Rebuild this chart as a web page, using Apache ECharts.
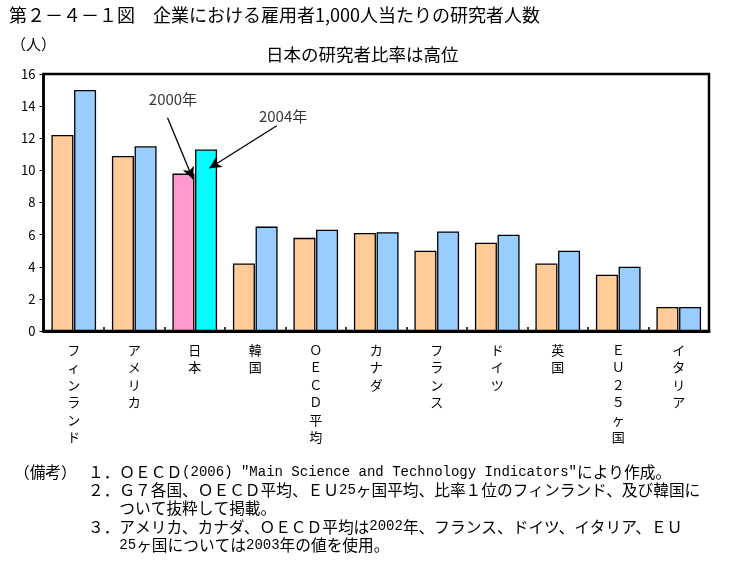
<!DOCTYPE html>
<html><head><meta charset="utf-8">
<script src="https://cdn.jsdelivr.net/npm/echarts@6/dist/echarts.min.js"></script>
<style>html,body{margin:0;padding:0;background:#fff}#c{width:734px;height:564px}</style>
</head><body><div id="c"></div>
<script>
const categories = ['フィンランド','アメリカ','日本','韓国','ＯＥＣＤ平均','カナダ','フランス','ドイツ','英国','ＥＵ２５ヶ国','イタリア'];
const values2000 = [12.2, 10.9, 9.8, 4.2, 5.8, 6.1, 5.0, 5.5, 4.2, 3.5, 1.5];
const values2004 = [15.0, 11.5, 11.3, 6.5, 6.3, 6.15, 6.2, 6.0, 5.0, 4.0, 1.5];
const yTicks = [0, 2, 4, 6, 8, 10, 12, 14, 16];
const annoLabels = [['2000年', 2.14, 14.4], ['2004年', 3.96, 13.35]];
const annoArrows = [[[2.05, 13.28], [2.47, 9.46]], [[3.855, 12.78], [2.74, 10.13]]];
const titleText = '第２－４－１図　企業における雇用者1,000人当たりの研究者人数';
const subtitleText = '日本の研究者比率は高位';
const notes = [
  ['（備考）', '１．ＯＥＣＤ(2006) "Main Science and Technology Indicators"により作成。'],
  ['', '２．Ｇ７各国、ＯＥＣＤ平均、ＥＵ25ヶ国平均、比率１位のフィンランド、及び韓国に'],
  ['', '　　ついて抜粋して掲載。'],
  ['', '３．アメリカ、カナダ、ＯＥＣＤ平均は2002年、フランス、ドイツ、イタリア、ＥＵ'],
  ['', '　　25ヶ国については2003年の値を使用。']
];

const FONT = '"Noto Sans CJK JP", sans-serif';
const JP = 2;
const chart = echarts.init(document.getElementById('c'));
const d2000 = values2000.map((v, i) => i === JP ? {value: v, itemStyle: {color: '#FF99CC'}} : v);
const d2004 = values2004.map((v, i) => i === JP ? {value: v, itemStyle: {color: '#00FFFF'}} : v);

function toRich(s) {
  return s.replace(/[\x20-\x7e]+|[^\x20-\x7e]+/g, r => /[\x20-\x7e]/.test(r[0]) ? '{m|' + r + '}' : '{j|' + r + '}');
}
const richStyles = {
  m: {fontFamily: '"Liberation Mono", monospace', fontSize: 14, fill: '#000', lineHeight: 18, verticalAlign: 'middle'},
  j: {fontFamily: FONT, fontSize: 15.7, fill: '#000', lineHeight: 18, verticalAlign: 'middle'}
};

const graphics = [
  {type: 'text', left: 9, top: 6, style: {text: titleText, font: '18px ' + FONT, fill: '#000'}},
  {type: 'text', left: 266, top: 46, style: {text: subtitleText, font: '17.5px ' + FONT, fill: '#000'}},
  {type: 'text', left: 11, top: 37, style: {text: '（人）', font: '15px ' + FONT, fill: '#000'}}
];
notes.forEach((n, i) => {
  if (n[0]) graphics.push({type: 'text', left: 14, top: 464 + i * 18.3, style: {text: toRich(n[0]), rich: richStyles}});
  graphics.push({type: 'text', left: 88, top: 464 + i * 18.3, style: {text: toRich(n[1]), rich: richStyles}});
});

chart.setOption({
  animation: false,
  backgroundColor: '#fff',
  textStyle: {fontFamily: FONT},
  graphic: graphics,
  grid: {left: 43.5, right: 25, top: 74, bottom: 233, show: true, borderColor: '#000', borderWidth: 2.5, containLabel: false},
  xAxis: [{
    type: 'category', data: categories,
    axisLine: {lineStyle: {color: '#000', width: 3}},
    axisTick: {show: true, inside: true, length: 4, lineStyle: {color: '#000', width: 1.5}},
    axisLabel: {interval: 0, margin: 10, fontSize: 13, lineHeight: 17.5, color: '#000', verticalAlign: 'top',
      formatter: s => s.split('').join('\n')}
  }, {
    type: 'value', min: 0, max: 11, show: false
  }],
  yAxis: {
    type: 'value', min: yTicks[0], max: yTicks[yTicks.length - 1], interval: 2,
    axisLine: {show: true, lineStyle: {color: '#000', width: 2.5}},
    axisTick: {show: true, length: 4, lineStyle: {color: '#000', width: 1}},
    axisLabel: {fontSize: 13, color: '#000', margin: 8},
    splitLine: {show: false}
  },
  series: [
    {type: 'bar', name: '2000年', data: d2000, barWidth: 22, barGap: '3%',
      itemStyle: {color: '#FFCC99', borderColor: '#000', borderWidth: 1.3}},
    {type: 'bar', name: '2004年', data: d2004, barWidth: 22,
      itemStyle: {color: '#99CCFF', borderColor: '#000', borderWidth: 1.3}},
    {type: 'scatter', xAxisIndex: 1, symbolSize: 0, silent: true,
      data: annoLabels.map(a => ({value: [a[1], a[2]], name: a[0]})),
      label: {show: true, position: 'inside', formatter: p => p.name, fontSize: 15, color: '#000'},
      markLine: {silent: true, symbol: ['none', 'arrow'], symbolSize: [9, 12],
        lineStyle: {color: '#000', width: 1.3, type: 'solid'}, label: {show: false},
        data: annoArrows.map(a => [{coord: a[0]}, {coord: a[1]}])}
    }
  ]
});
</script></body></html>
